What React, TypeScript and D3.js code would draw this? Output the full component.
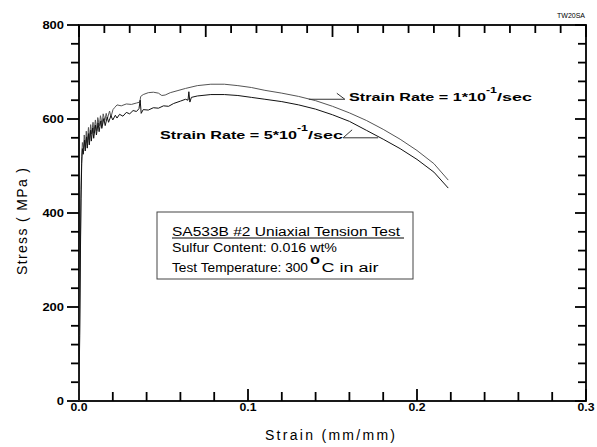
import React from "react";
import * as d3 from "d3";

const W = 597;
const H = 447;

// Strain rate 1e-1 /sec (upper curve)
const rate1Strain = [0, 0.0004, 0.0008, 0.0012, 0.0016, 0.002, 0.0027, 0.0031, 0.0038, 0.0043, 0.0049, 0.0056, 0.0061, 0.0069, 0.0074, 0.0083, 0.0088, 0.0097, 0.0105, 0.0111, 0.0121, 0.0127, 0.0137, 0.0143, 0.0153, 0.0161, 0.0168, 0.0181, 0.0189, 0.0201, 0.021, 0.0225, 0.025, 0.028, 0.031, 0.034, 0.036, 0.0365, 0.038, 0.041, 0.044, 0.047, 0.049, 0.051, 0.054, 0.058, 0.063, 0.07, 0.078, 0.086, 0.094, 0.102, 0.11, 0.12, 0.13, 0.14, 0.15, 0.16, 0.17, 0.18, 0.19, 0.2, 0.21, 0.2185];
const rate1Stress = [0, 150, 320, 450, 520, 550, 536, 566, 541, 574, 550, 582, 556, 588, 568, 593, 570, 598, 575, 603, 586, 607, 588, 611, 597, 612, 601, 617, 604, 620, 624, 630, 628, 632, 631, 634, 636, 648, 652, 656, 657, 655, 650, 651, 656, 660, 665, 671, 674, 674, 671, 667, 661, 655, 648, 639, 627, 613, 597, 578, 557, 533, 505, 470];

// Strain rate 5e-1 /sec (lower curve)
const rate5Strain = [0, 0.0004, 0.0008, 0.0012, 0.0016, 0.002, 0.0025, 0.0033, 0.0037, 0.0045, 0.0049, 0.0057, 0.0061, 0.0069, 0.0073, 0.0081, 0.0087, 0.0097, 0.0103, 0.0113, 0.0119, 0.0129, 0.0135, 0.0147, 0.0155, 0.0167, 0.0175, 0.0189, 0.02, 0.0215, 0.0225, 0.024, 0.026, 0.028, 0.03, 0.032, 0.034, 0.0355, 0.0362, 0.0368, 0.038, 0.041, 0.044, 0.047, 0.05, 0.053, 0.056, 0.06, 0.063, 0.0645, 0.065, 0.0656, 0.0665, 0.07, 0.078, 0.086, 0.094, 0.102, 0.11, 0.12, 0.13, 0.14, 0.15, 0.16, 0.17, 0.18, 0.19, 0.2, 0.21, 0.2185];
const rate5Stress = [0, 140, 300, 430, 505, 537, 525, 555, 532, 562, 538, 569, 545, 576, 553, 581, 559, 587, 566, 592, 573, 596, 580, 601, 586, 604, 593, 607, 598, 608, 602, 610, 606, 614, 611, 618, 616, 622, 640, 612, 620, 619, 624, 623, 628, 627, 633, 638, 642, 640, 658, 636, 646, 649, 652, 652, 650, 646, 642, 637, 630, 621, 609, 595, 576, 557, 537, 514, 487, 453];

const xTickLabels = ["0.0", "0.1", "0.2", "0.3"];
const xTickValues = [0, 0.1, 0.2, 0.3];
const yTickLabels = ["0", "200", "400", "600", "800"];
const yTickValues = [0, 200, 400, 600, 800];

const boxLines = ["SA533B #2 Uniaxial Tension Test", "Sulfur Content: 0.016 wt%", "Test Temperature: 300"];

const FONT = "'Liberation Sans', Arial, Helvetica, sans-serif";

export default function App() {
  const left = 79, right = 586, top = 25, bottom = 401;
  const x = d3.scaleLinear().domain([0, 0.3]).range([left, right]);
  const y = d3.scaleLinear().domain([0, 800]).range([bottom, top]);

  const line = d3.line<[number, number]>().x((d) => x(d[0])).y((d) => y(d[1]));
  const up = rate1Strain.map((s, i) => [s, rate1Stress[i]] as [number, number]);
  const lo = rate5Strain.map((s, i) => [s, rate5Stress[i]] as [number, number]);

  const sw = 1.8;
  const axisColor = "#000";

  const bottomTicks = d3.range(0, 16).map((i) => ({ v: i * 0.02, major: i % 5 === 0 }));
  const topTicks = d3.range(0, 21).map((i) => ({ v: (i * 0.3) / 20, major: i % 5 === 0 }));
  const yTicks = d3.range(0, 21).map((i) => ({ v: i * 40, major: i % 5 === 0 }));

  const a1 = [0.136, 642];
  const a2 = [0.177, 560];
  const a1x = x(a1[0]), a1y = y(a1[1]);
  const a2x = x(a2[0]), a2y = y(a2[1]);

  return (
    <svg width={W} height={H} style={{ position: "absolute", left: 0, top: 0, background: "#fff" }} fontFamily={FONT}>
      <rect x={0} y={0} width={W} height={H} fill="#fff" />
      <rect x={left} y={top} width={right - left} height={bottom - top} fill="none" stroke={axisColor} strokeWidth={sw} />
      {yTicks.map((t, i) => (
        <line key={"l" + i} x1={left} x2={left - (t.major ? 12 : 8)} y1={y(t.v)} y2={y(t.v)} stroke={axisColor} strokeWidth={sw} />
      ))}
      {yTicks.map((t, i) => (
        <line key={"r" + i} x1={right} x2={right - (t.major ? 11 : 8)} y1={y(t.v)} y2={y(t.v)} stroke={axisColor} strokeWidth={sw} />
      ))}
      {bottomTicks.map((t, i) => (
        <line key={"b" + i} x1={x(t.v)} x2={x(t.v)} y1={bottom} y2={bottom - (t.major ? 12 : 9)} stroke={axisColor} strokeWidth={sw} />
      ))}
      {topTicks.map((t, i) => (
        <line key={"t" + i} x1={x(t.v)} x2={x(t.v)} y1={top} y2={top + (t.major ? 12 : 8)} stroke={axisColor} strokeWidth={sw} />
      ))}
      {yTickValues.map((v, i) => (
        <text key={"yl" + i} x={64} y={y(v) + 3.8} textAnchor="end" fontSize={10.5} fontWeight="bold"
          textLength={yTickLabels[i].length * 7.2} lengthAdjust="spacingAndGlyphs">{yTickLabels[i]}</text>
      ))}
      {xTickValues.map((v, i) => (
        <text key={"xl" + i} x={x(v) - 8.5} y={411} fontSize={10.5} fontWeight="bold"
          textLength={17} lengthAdjust="spacingAndGlyphs">{xTickLabels[i]}</text>
      ))}
      <text x={265} y={440} fontSize={14} textLength={130} lengthAdjust="spacing">Strain  (mm/mm)</text>
      <text transform="translate(27,275) rotate(-90)" fontSize={14} textLength={107} lengthAdjust="spacing">Stress ( MPa )</text>
      <text x={557} y={18} fontSize={7} textLength={28} lengthAdjust="spacingAndGlyphs">TW20SA</text>

      <path d={line(up) || ""} fill="none" stroke="#555" strokeWidth={1} />
      <path d={line(lo) || ""} fill="none" stroke="#111" strokeWidth={1} />

      <polyline points={`${a1x},${a1y} ${a1x + 36},${a1y} ${a1x + 28},${a1y - 6}`} fill="none" stroke="#333" strokeWidth={1} />
      <text x={349} y={101} fontSize={11} fontWeight="bold" textLength={137} lengthAdjust="spacingAndGlyphs">Strain Rate = 1*10</text>
      <text x={486} y={93} fontSize={9} fontWeight="bold" textLength={11} lengthAdjust="spacingAndGlyphs">-1</text>
      <text x={497} y={101} fontSize={11} fontWeight="bold" textLength={35} lengthAdjust="spacingAndGlyphs">/sec</text>

      <polyline points={`${a2x},${a2y} ${a2x - 35},${a2y} ${a2x - 26},${a2y - 8}`} fill="none" stroke="#333" strokeWidth={1} />
      <text x={160} y={139} fontSize={11} fontWeight="bold" textLength={137} lengthAdjust="spacingAndGlyphs">Strain Rate = 5*10</text>
      <text x={297} y={131} fontSize={9} fontWeight="bold" textLength={11} lengthAdjust="spacingAndGlyphs">-1</text>
      <text x={308} y={139} fontSize={11} fontWeight="bold" textLength={35} lengthAdjust="spacingAndGlyphs">/sec</text>

      <rect x={157} y={212} width={256} height={67} fill="none" stroke="#444" strokeWidth={1} />
      <text x={172} y={236} fontSize={12.5} textLength={228} lengthAdjust="spacingAndGlyphs">{boxLines[0]}</text>
      <line x1={172} x2={404} y1={238} y2={238} stroke="#000" strokeWidth={1} />
      <text x={172} y={251.5} fontSize={12.5} textLength={165} lengthAdjust="spacingAndGlyphs">{boxLines[1]}</text>
      <text x={172} y={271.5} fontSize={12.5} textLength={136} lengthAdjust="spacingAndGlyphs">{boxLines[2]}</text>
      <text x={310} y={264} fontSize={12} fontWeight="bold" textLength={10} lengthAdjust="spacingAndGlyphs">o</text>
      <text x={321.5} y={271.5} fontSize={12.5} textLength={57} lengthAdjust="spacingAndGlyphs">C  in air</text>
    </svg>
  );
}
